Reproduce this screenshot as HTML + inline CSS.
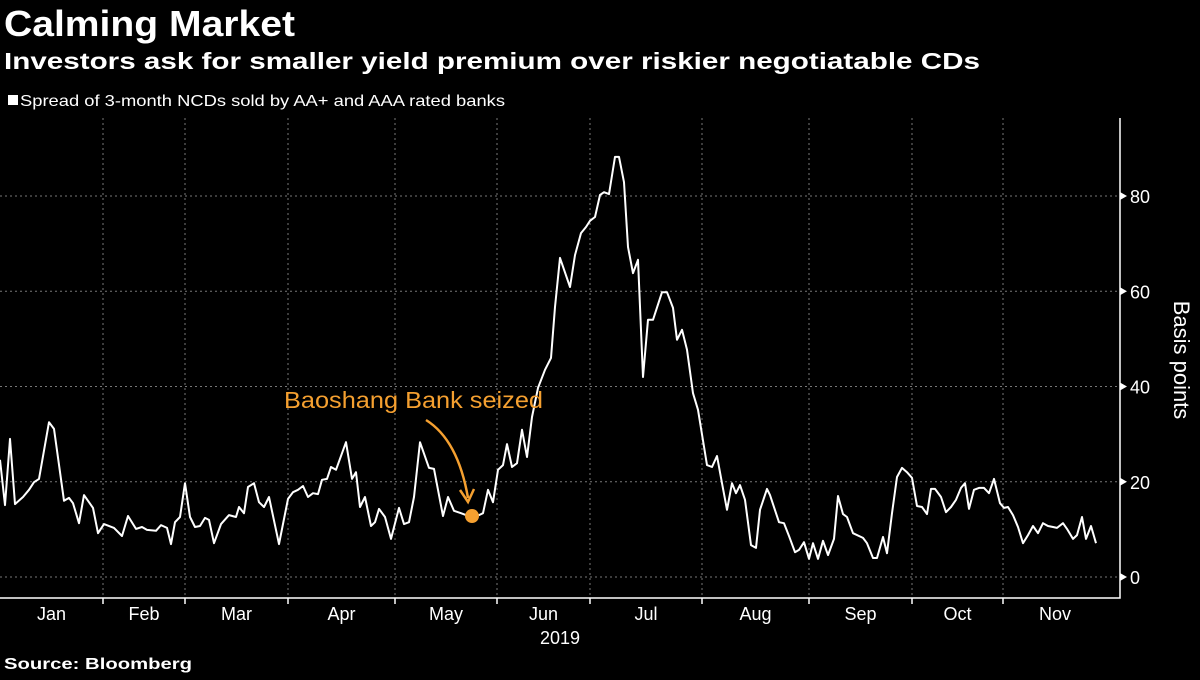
<!DOCTYPE html>
<html><head><meta charset="utf-8"><style>
body{margin:0;background:#000;width:1200px;height:675px;overflow:hidden;font-family:"Liberation Sans",sans-serif;color:#fff}
</style></head><body>
<svg id="c" width="1200" height="675" xmlns="http://www.w3.org/2000/svg">
<text x="4" y="36" font-size="36" font-weight="bold" fill="#fff" textLength="291" lengthAdjust="spacingAndGlyphs">Calming Market</text>
<text x="4" y="69" font-size="23" font-weight="bold" fill="#fff" textLength="976" lengthAdjust="spacingAndGlyphs">Investors ask for smaller yield premium over riskier negotiatable CDs</text>
<rect x="8" y="95" width="10" height="10" fill="#fff"/>
<text x="20" y="106" font-size="16" fill="#fff" textLength="485" lengthAdjust="spacingAndGlyphs">Spread of 3-month NCDs sold by AA+ and AAA rated banks</text>
<g id="grid"></g>
<g id="axes"></g>
<path id="line" fill="none" stroke="#fff" stroke-width="2" stroke-linejoin="round"/>
<text x="284" y="408" font-size="23" fill="#f5a030" textLength="259" lengthAdjust="spacingAndGlyphs">Baoshang Bank seized</text>
<path d="M426,420 Q458,440 468,498" fill="none" stroke="#f5a030" stroke-width="2.5"/>
<path d="M460,490 L468,502 L474,489" fill="none" stroke="#f5a030" stroke-width="2.5"/>
<circle id="dot" r="7" fill="#f5a030"/>
<text x="1174" y="360" font-size="22" fill="#fff" transform="rotate(90 1174 360)" text-anchor="middle">Basis points</text>
<text x="560" y="644" font-size="18" fill="#fff" text-anchor="middle">2019</text>
<text x="4" y="669" font-size="16" font-weight="bold" fill="#fff" textLength="188" lengthAdjust="spacingAndGlyphs">Source: Bloomberg</text>
</svg>
<script>
const days=[0,1,2,3,4.6,5.8,6.8,7.8,9.8,10.8,12.8,13.8,14.6,15.8,16.8,18.6,19.6,20.8,22.8,24.4,25.6,27.2,28.4,29.4,31.2,32.2,33.4,34.2,35,36,37,38,39,40,41,41.8,42.8,44.2,45.8,47.2,47.8,48.8,49.6,50.8,51.8,52.8,53.8,55.8,57.6,58.6,59.6,60.6,61.6,62.6,63.6,64.4,65.4,66.2,67.2,69.2,70.4,71.2,72,73,74.2,75,75.8,77,78.2,79.8,80.8,81.8,82.8,84,85.8,86.8,88.6,89.6,90.8,92.2,93.2,94.4,95.8,96.6,97.6,98.6,99.6,100.6,101.4,102.4,103.4,104.4,105.4,106.4,107.6,109,110.2,111,112,114,115,116.2,117.2,118,119,120,120.8,121.8,123,123.8,124.8,125.6,126.6,127.6,128.6,129.6,130.6,132.4,133.4,134.6,135.4,136.4,137.4,138.6,139.6,141.4,142.4,143.4,144.4,145.4,146.4,147.2,148,149,150.2,151.2,152,153.4,154,155.8,156.8,157.8,159,159.8,160.8,161.8,162.6,163.6,164.6,165.6,166.8,167.6,168.6,169.4,170.6,172.6,173.4,174.6,175.4,176.6,177.4,178.4,179.4,180.4,181.4,182.4,183.4,184.4,185.4,186.2,187,188.2,189.2,190.2,191.2,192.2,193,193.8,194.8,195.8,196.8,197.8,198.8,200,200.8,201.6,202.6,203.6,204.6,205.6,206.6,207.6,208.6,209.6,210.6,211.4,212.6,213.4,214.6,215.4,216.4,217.2,218.2,219.2];
const spread=[24.6,15.1,29.0,15.3,16.8,18.3,19.9,20.6,32.5,31.1,16.0,16.6,15.5,11.3,17.2,14.5,9.2,11.1,10.3,8.6,12.8,10.1,10.5,9.9,9.7,10.9,10.3,6.9,11.5,12.6,19.7,12.6,10.5,10.7,12.4,12.0,7.1,11.1,13.0,12.6,14.7,13.4,18.9,19.7,15.7,14.7,16.8,6.9,16.4,17.8,18.3,19.1,16.8,17.6,17.4,20.4,20.6,23.1,22.5,28.3,20.6,22.0,14.7,16.8,10.7,11.5,14.3,12.6,8.0,14.5,11.1,11.5,16.8,28.3,22.9,22.7,12.8,16.8,13.9,13.4,13.0,12.8,13.0,13.4,18.3,15.7,22.5,23.5,27.9,23.1,23.9,30.9,25.2,33.6,39.7,43.5,46.0,56.7,67.0,60.9,67.6,72.2,73.5,74.8,75.6,80.2,80.8,80.4,88.2,88.2,82.9,69.3,63.8,66.6,42.0,54.0,54.0,59.8,59.8,56.5,49.8,51.9,47.7,38.6,35.1,23.5,23.1,25.4,19.7,14.1,19.7,17.6,19.3,16.2,6.7,6.1,14.1,18.5,17.2,11.5,11.3,8.6,5.2,5.7,7.3,3.8,7.1,3.8,7.6,4.6,8.0,17.0,13.2,12.6,9.2,8.2,7.1,4.0,4.0,8.4,5.0,13.4,21.0,22.9,22.0,20.8,14.9,14.7,13.2,18.5,18.5,16.8,13.6,14.7,16.2,18.7,19.7,14.3,18.3,18.7,18.7,17.6,20.6,15.5,14.5,14.7,13.0,10.5,7.1,8.8,10.7,9.2,11.3,10.7,10.5,10.3,11.3,10.1,8.0,8.8,12.6,8.0,10.7,7.1,7.1];
const yTicks=[0,20,40,60,80];
const monthLabels=["Jan","Feb","Mar","Apr","May","Jun","Jul","Aug","Sep","Oct","Nov"];
const monthBounds=[0,20.6,37,57.6,79,99.4,118,140.4,161.8,182.4,200.6,221.4];
const eventDay=94.4, eventValue=12.8;
const xS=d=>d*5, yS=v=>577-v*4.7625;
const NS="http://www.w3.org/2000/svg";
const grid=document.getElementById('grid'), axes=document.getElementById('axes');
function mk(tag,attrs,parent){const e=document.createElementNS(NS,tag);for(const k in attrs)e.setAttribute(k,attrs[k]);parent.appendChild(e);return e;}
yTicks.forEach(t=>{
  const g=mk('line',{x1:0,x2:1120,y1:yS(t),y2:yS(t),stroke:'#777','stroke-dasharray':'2,3','stroke-width':1},grid);
  
  
  const tk=mk('path',{d:`M1120,${yS(t)-4} L1127,${yS(t)} L1120,${yS(t)+4}Z`,fill:'#fff'},axes);
  
  
  const lb=mk('text',{x:1130,y:yS(t)+7,'font-size':18,fill:'#fff'},axes);
  lb.textContent=t;
  
  
});
monthBounds.forEach((b,i)=>{
  if(i>0&&i<monthBounds.length-1){
    const g=mk('line',{x1:xS(b),x2:xS(b),y1:118,y2:598,stroke:'#777','stroke-dasharray':'2,3','stroke-width':1},grid);
    
    
    const tk=mk('line',{x1:xS(b),x2:xS(b),y1:598,y2:604,stroke:'#fff','stroke-width':1.5},axes);
    
    
  }
  if(i<monthLabels.length){
    const lb=mk('text',{x:(xS(b)+xS(monthBounds[i+1]))/2,y:620,'font-size':18,fill:'#fff','text-anchor':'middle'},axes);
    lb.textContent=monthLabels[i];
    
    
  }
});
const ax=mk('path',{d:'M0,598 L1120,598 L1120,118',fill:'none',stroke:'#fff','stroke-width':1.5},axes);


document.getElementById('line').setAttribute('d',days.map((d,i)=>(i?'L':'M')+xS(d).toFixed(1)+','+yS(spread[i]).toFixed(1)).join(' '));
const dot=document.getElementById('dot');dot.setAttribute('cx',xS(eventDay));dot.setAttribute('cy',yS(eventValue));
</script>
</body></html>
